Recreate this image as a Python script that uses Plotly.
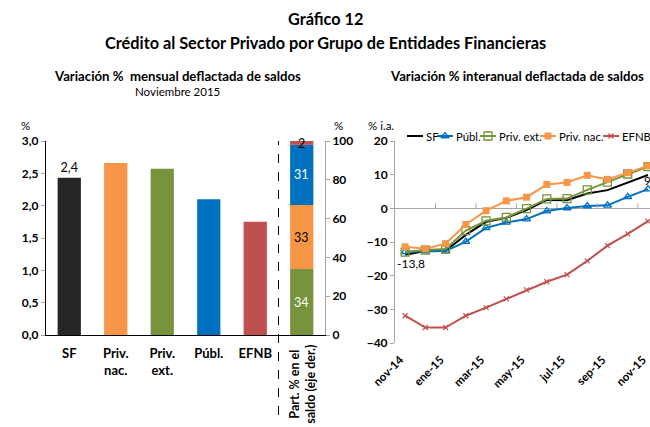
import numpy as np
import plotly.graph_objects as go

FONT = "Lato"

# ---------------- data ----------------
bar_cats = ["SF", "Priv. nac.", "Priv. ext.", "Públ.", "EFNB"]
bar_labels = ["SF", "Priv.<br>nac.", "Priv.<br>ext.", "Públ.", "EFNB"]
bar_vals = [2.43, 2.66, 2.57, 2.10, 1.75]
bar_text = ["2,4", "", "", "", ""]
bar_colors = ["#262626", "#F79646", "#77933C", "#0070C0", "#C0504D"]

share_cat = "Part."
share_label = "Part. % en el<br>saldo (eje der.)"
share_names = ["Priv. ext.", "Priv. nac.", "Públ.", "EFNB"]
share_vals = [34, 33, 31, 2]
share_colors = ["#77933C", "#F79646", "#0070C0", "#C0504D"]
share_text_colors = ["white", "black", "white", "black"]

months = ["nov-14", "dic-14", "ene-15", "feb-15", "mar-15", "abr-15", "may-15",
          "jun-15", "jul-15", "ago-15", "sep-15", "oct-15", "nov-15"]
sf = [-13.8, -12.7, -12.6, -7.9, -4.0, -2.8, -0.5, 2.5, 2.4, 4.4, 5.4, 7.6, 9.9]
publ = [-12.9, -12.7, -12.7, -9.9, -5.8, -4.2, -3.2, -0.8, 0.1, 0.7, 0.9, 3.4, 5.7]
priv_ext = [-13.0, -12.4, -12.1, -6.6, -3.7, -2.7, -0.1, 2.8, 2.9, 5.5, 7.8, 10.2, 12.4]
priv_nac = [-11.4, -12.0, -10.5, -4.8, -0.7, 2.2, 3.3, 7.1, 7.7, 9.8, 8.6, 10.6, 12.6]
efnb = [-31.9, -35.4, -35.4, -31.9, -29.5, -26.9, -24.2, -21.8, -19.7, -15.6, -11.1, -7.6, -3.8]

series = [
    ("SF", sf, "#000000", None),
    ("Públ.", publ, "#0070C0", dict(symbol="triangle-up-open", size=7, line=dict(width=1.3, color="#0070C0"))),
    ("Priv. ext.", priv_ext, "#77933C", dict(symbol="square-open", size=8, line=dict(width=1.3, color="#77933C"))),
    ("Priv. nac.", priv_nac, "#F79646", dict(symbol="square", size=7)),
    ("EFNB", efnb, "#C0504D", dict(symbol="x-thin-open", size=5, line=dict(width=1.2, color="#C0504D"))),
]

xi = np.arange(len(months))
GREY = "#A6A6A6"

fig = go.Figure()

# ---------------- left chart ----------------
fig.add_trace(go.Bar(
    x=bar_cats, y=bar_vals, marker_color=bar_colors, width=0.5,
    text=bar_text, textposition="outside", cliponaxis=False,
    textfont=dict(family=FONT, size=12.5, color="black"),
    xaxis="x", yaxis="y", showlegend=False))

bases = np.concatenate([[0], np.cumsum(share_vals)[:-1]])
for name, v, b, c in zip(share_names, share_vals, bases, share_colors):
    fig.add_trace(go.Bar(x=[share_cat], y=[v], base=[b], marker_color=c, width=0.5,
                         xaxis="x", yaxis="y2", showlegend=False, name=name))

annotations = []
for v, b, tc in zip(share_vals, bases, share_text_colors):
    annotations.append(dict(x=share_cat, y=b + v / 2 if v > 5 else b + v / 2 - 0.5,
                            xref="x", yref="y2", text=str(v), showarrow=False,
                            xanchor="center", yanchor="middle",
                            font=dict(family=FONT, size=12.5, color=tc)))

# ---------------- right chart ----------------
for name, vals, col, mk in series:
    if mk is None:
        kw = dict(mode="lines")
    else:
        kw = dict(mode="lines+markers", marker=dict(color=col, **mk))
    fig.add_trace(go.Scatter(x=xi, y=vals, line=dict(color=col, width=2), name=name,
                             xaxis="x2", yaxis="y3", showlegend=False, cliponaxis=False, **kw))

# custom compact legend (single row, like the reference)
leg_x = [407, 437, 480, 540, 603]
leg_y = 136
for (name, vals, col, mk), x0 in zip(series, leg_x):
    fig.add_trace(go.Scatter(x=[x0, x0 + 16], y=[leg_y, leg_y], mode="lines",
                             line=dict(color=col, width=2), xaxis="x3", yaxis="y4",
                             showlegend=False, hoverinfo="skip"))
    if mk is not None:
        fig.add_trace(go.Scatter(x=[x0 + 8], y=[leg_y], mode="markers",
                                 marker=dict(color=col, **mk), xaxis="x3", yaxis="y4",
                                 showlegend=False, hoverinfo="skip"))
    annotations.append(dict(x=x0 + 16.5, y=leg_y, xref="x3", yref="y4", text=name,
                            xanchor="left", yanchor="middle", showarrow=False,
                            font=dict(family=FONT, size=11.3, color="black")))

# data labels on SF line
annotations.append(dict(x=0, y=sf[0], xref="x2", yref="y3", text="-13,8", showarrow=False,
                        xanchor="center", yanchor="middle", xshift=6, yshift=-9,
                        font=dict(family=FONT, size=12, color="black")))
annotations.append(dict(x=12, y=sf[-1], xref="x2", yref="y3", text="9", showarrow=False,
                        xanchor="left", yanchor="middle", xshift=-6, yshift=-6,
                        font=dict(family=FONT, size=12, color="black")))

# ---------------- titles & axis captions ----------------
def ann(x, y, text, size, bold=False, **kw):
    d = dict(x=x / 650, y=1 - y / 427, xref="paper", yref="paper", text=text, showarrow=False,
             xanchor="center", yanchor="middle",
             font=dict(family=FONT, size=size, color="black", weight="bold" if bold else "normal"))
    d.update(kw)
    annotations.append(d)

ann(326, 18, "Gráfico 12", 16.3, True)
ann(326, 42, "Crédito al Sector Privado por Grupo de Entidades Financieras", 16.3, True)
ann(177, 76, "Variación %  mensual deflactada de saldos", 13.2, True)
ann(177, 91, "Noviembre 2015", 11.5)
ann(517, 76, "Variación % interanual deflactada de saldos", 13.2, True)
ann(25, 125, "%", 11.5)
ann(338, 125, "%", 11.5)
ann(381, 125, "% i.a.", 11.5)

annotations.append(dict(x=share_cat, y=1 - 384 / 427, xref="x", yref="paper", text=share_label,
                        textangle=-90, showarrow=False, xanchor="center", yanchor="middle",
                        font=dict(family=FONT, size=12.5, color="black", weight="bold")))

tickfont = dict(family=FONT, size=12, color="black", weight="bold")

# shapes: dashed separator and the upward ticks on the zero line of the right chart
shapes = [dict(type="line", xref="x", yref="paper", x0=4.5, x1=4.5,
               y0=1 - 415 / 427, y1=1 - 141 / 427,
               line=dict(color="black", width=1, dash="dash"))]
for bx in np.arange(1.5, len(months) - 1, 2):
    shapes.append(dict(type="line", xref="x2", yref="y3", x0=bx, x1=bx, y0=0, y1=1.5,
                       line=dict(color=GREY, width=1)))

fig.update_layout(
    template="none",
    width=650, height=427, autosize=False,
    margin=dict(l=0, r=0, t=0, b=0, pad=0),
    paper_bgcolor="white", plot_bgcolor="rgba(0,0,0,0)",
    separators=",.",
    barmode="overlay",
    showlegend=False,
    font=dict(family=FONT, color="black"),
    xaxis=dict(domain=[46 / 650, 325 / 650], type="category",
               categoryorder="array", categoryarray=bar_cats + [share_cat],
               range=[-0.5, 5.5], tickvals=bar_cats, ticktext=bar_labels,
               showline=True, linecolor="black", linewidth=1.2, ticks="",
               ticklabelstandoff=6,
               tickfont=dict(family=FONT, size=13, color="black", weight="bold"),
               anchor="y", showgrid=False, automargin=False),
    yaxis=dict(domain=[1 - 335 / 427, 1 - 141 / 427], range=[0, 3], dtick=0.5,
               tickformat=".1f", showline=True, linecolor="black", linewidth=1.2,
               ticks="outside", ticklen=4, tickcolor=GREY, showgrid=False,
               zeroline=False, tickfont=tickfont, anchor="x", automargin=False),
    yaxis2=dict(overlaying="y", side="right", anchor="x", range=[0, 100], dtick=20,
                showline=True, linecolor=GREY, ticks="outside", ticklen=4,
                tickcolor=GREY, showgrid=False, zeroline=False, tickfont=tickfont,
                automargin=False),
    xaxis2=dict(domain=[395 / 650, 1.0], range=[-0.5, 12.1], anchor="y3",
                tickvals=list(xi[::2]), ticktext=months[::2], tickangle=-45,
                ticks="", showline=False, showgrid=False, zeroline=False,
                ticklabelstandoff=7, ticklabelshift=-5, ticklabeloverflow="allow",
                tickfont=dict(family=FONT, size=11.5, color="black", weight="bold"),
                automargin=False),
    yaxis3=dict(domain=[1 - 343 / 427, 1 - 141 / 427], range=[-40, 20], dtick=10,
                anchor="x2", showline=True, linecolor=GREY, ticks="outside",
                ticklen=4, tickcolor=GREY, showgrid=False, zeroline=True,
                zerolinecolor=GREY, zerolinewidth=1, tickfont=tickfont, automargin=False),
    xaxis3=dict(domain=[0, 1], range=[0, 650], visible=False, anchor="y4", automargin=False),
    yaxis4=dict(domain=[0, 1], range=[427, 0], visible=False, anchor="x3", automargin=False),
    annotations=annotations,
    shapes=shapes,
)

fig.write_html("out.html", config={"displayModeBar": False},
               post_script="document.body.style.margin='0';document.body.style.overflow='hidden';")
